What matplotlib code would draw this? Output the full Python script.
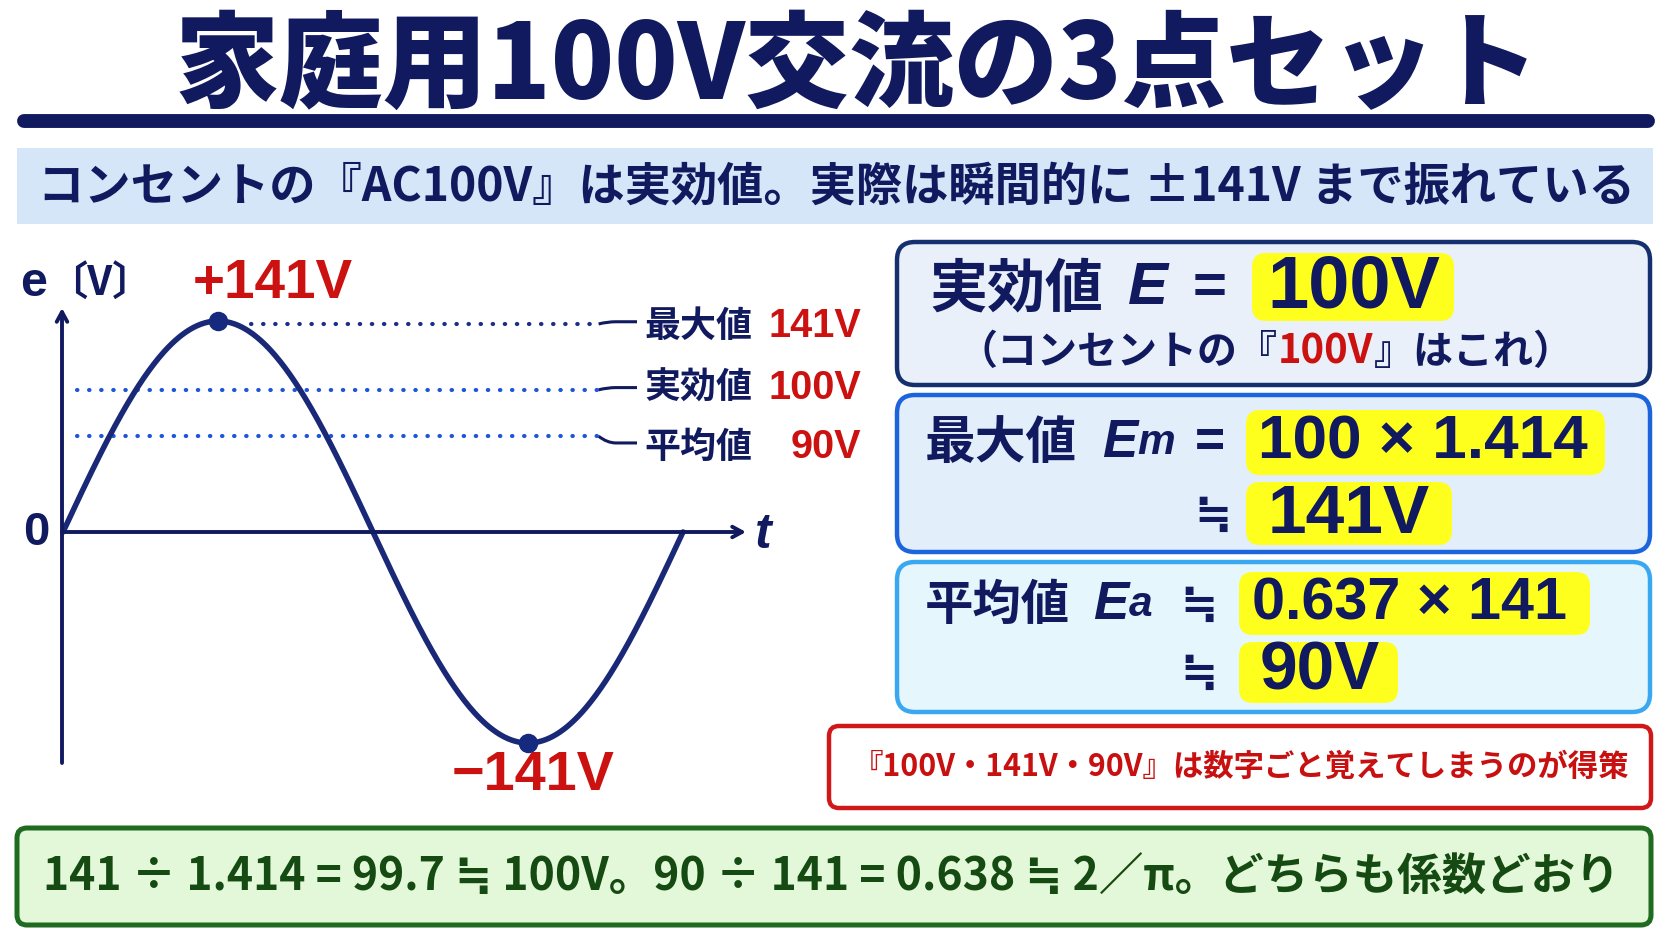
import numpy as np
import matplotlib
matplotlib.use("Agg")
import matplotlib.pyplot as plt
from matplotlib.patches import FancyBboxPatch, Rectangle, PathPatch
from matplotlib.path import Path

# ---------------- data ----------------
Em = 141            # maximum value [V]
E_rms = 100         # effective value [V]
E_avg = 90          # average value [V]
period_deg = 360    # one cycle drawn
peak_deg = [90, 270]
peak_val = [Em, -Em]
guide_names = ["最大値", "実効値", "平均値"]
guide_labels = ["141V", "100V", "90V"]
guide_heights = [139, 95, 64]        # heights of the dotted guides as drawn in the picture [V]
guide_start = [109, 8, 8]            # deg
guide_end = 311                      # deg
title = "家庭用100V交流の3点セット"
subtitle = "コンセントの『AC100V』は実効値。実際は瞬間的に ±141V まで振れている"
tip = "『100V・141V・90V』は数字ごと覚えてしまうのが得策"
bottom = "141 ÷ 1.414 = 99.7 ≒ 100V。90 ÷ 141 = 0.638 ≒ 2／π。どちらも係数どおり"

# ---------------- setup ----------------
W, H = 1672, 941
fig = plt.figure(figsize=(W / 100, H / 100), dpi=100)
fig.patch.set_facecolor("white")
bg = fig.add_axes([0, 0, 1, 1])
bg.set_xlim(0, W)
bg.set_ylim(H, 0)
bg.axis("off")

CJK = ["Noto Sans CJK JP", "DejaVu Sans"]
LAT = ["Liberation Sans", "DejaVu Sans"]
NAVY = "#111a5e"
RED = "#cc1111"
YEL = "#ffff1e"
GTXT = "#154a12"

renderer = fig.canvas.get_renderer()


def wid(t):
    return t.get_window_extent(renderer).width


def runs(x0, x1, y, parts, size=30, va="center"):
    ts = []
    for s, c, kw in parts:
        kw = dict(kw)
        rel = kw.pop("rel", 1.0)
        k = dict(family=CJK, weight="bold")
        k.update(kw)
        t = bg.text(x0, y, s, color=c, fontsize=size * rel, va=va, ha="left", **k)
        ts.append(t)
    if x1 is not None:
        total = sum(wid(t) for t in ts)
        f = (x1 - x0) / total
        for t in ts:
            t.set_fontsize(t.get_fontsize() * f)
    x = x0
    for t in ts:
        t.set_x(x)
        x += wid(t)
    return ts


def rbox(x0, y0, x1, y1, fc, ec, lw, r, z=1):
    p = FancyBboxPatch((x0, y0), x1 - x0, y1 - y0,
                       boxstyle=f"round,pad=0,rounding_size={r}",
                       fc=fc, ec=ec, lw=lw, zorder=z)
    bg.add_patch(p)


# ---------------- title ----------------
runs(175, 1541, 68, [(title, NAVY, dict(weight="black"))], size=70)
bg.plot([24, 1648], [121, 121], color=NAVY, lw=10, solid_capstyle="round")

# ---------------- subtitle band ----------------
bg.add_patch(Rectangle((17, 148), 1636, 76, fc="#d5e6f8", ec="none"))
runs(38, 1636, 187, [(subtitle, NAVY, {})], size=30)

# ---------------- chart ----------------
X0PX, PXDEG = 63, 620 / 360
Y0PX, PXV = 532, 211 / 141
L, R, T, B = 0, 880, 240, 820
ax = fig.add_axes([L / W, 1 - B / H, (R - L) / W, (B - T) / H])
ax.set_xlim((L - X0PX) / PXDEG, (R - X0PX) / PXDEG)
ax.set_ylim((Y0PX - B) / PXV, (Y0PX - T) / PXV)
ax.axis("off")
ax.patch.set_alpha(0)

LINEC = "#1a2878"
tt = np.linspace(0, period_deg, 500)
ax.plot(tt, Em * np.sin(np.radians(tt)), color=LINEC, lw=4, solid_capstyle="round", zorder=3)
ax.plot(peak_deg, peak_val, "o", ms=13, color="#15297e", zorder=4)

arrow_kw = dict(arrowstyle="->,head_length=0.7,head_width=0.38", lw=2.8, color=NAVY,
                shrinkA=0, shrinkB=0)
ax.annotate("", xy=((746 - X0PX) / PXDEG, 0), xytext=((62 - X0PX) / PXDEG, 0), arrowprops=arrow_kw)
ax.annotate("", xy=((62 - X0PX) / PXDEG, (Y0PX - 308) / PXV),
            xytext=((62 - X0PX) / PXDEG, (Y0PX - 763) / PXV), arrowprops=arrow_kw)

guide_colors = ["#1b2f8a", "#1f55d8", "#1f55d8"]
conn_dy = [1.5, 1.5, -4.5]
xc_end = (637 - X0PX) / PXDEG
for gh, gs, gc, dy in zip(guide_heights, guide_start, guide_colors, conn_dy):
    ax.plot([gs, guide_end], [gh, gh], color=gc, lw=3.0, linestyle=(0, (0.1, 2.8)),
            dash_capstyle="round", zorder=2)
    verts = [(guide_end, gh), (guide_end + 5, gh + dy), (guide_end + 10, gh + dy), (xc_end, gh + dy)]
    codes = [Path.MOVETO, Path.CURVE3, Path.CURVE3, Path.LINETO]
    ax.add_patch(PathPatch(Path(verts, codes), fc="none", ec=NAVY, lw=2.2))

# chart labels
label_y = [326, 388, 447]
for name, lab, y in zip(guide_names, guide_labels, label_y):
    runs(644, 752, y, [(name, NAVY, {})], size=26)
vals = []
for lab, y in zip(guide_labels, label_y):
    vals.append(bg.text(861, y, lab, color=RED, family=LAT, weight="bold", fontsize=28,
                        ha="right", va="center"))
f = 93 / wid(vals[0])
for v in vals:
    v.set_fontsize(v.get_fontsize() * f)

runs(193, 353, 284, [("+141V", RED, dict(family=LAT))], size=36)
runs(452, 615, 776, [("−141V", RED, dict(family=LAT))], size=36)
runs(20, None, 283, [("e", NAVY, dict(family=LAT, rel=1.2)), ("〔V〕", NAVY, dict(rel=1.0))], size=29)
bg.text(36, 533, "0", color=NAVY, family=LAT, weight="bold", fontsize=34, ha="center", va="center")
bg.text(755, 535, "t", color=NAVY, family=LAT, weight="bold", style="italic", fontsize=36,
        ha="left", va="center")

# ---------------- right boxes ----------------
rbox(897, 242, 1650, 385, "#e9f0fa", "#14306e", 3.2, 18)
rbox(897, 395, 1650, 552, "#e3eefb", "#1c64dc", 3.2, 18)
rbox(897, 562, 1650, 712, "#e5f6fd", "#3aa8f0", 3.2, 18)

# yellow highlights
for (x0, y0, x1, y1) in [(1252, 253, 1454, 321), (1246, 410, 1605, 475), (1246, 482, 1452, 545),
                         (1239, 572, 1590, 635), (1239, 642, 1398, 703)]:
    rbox(x0, y0, x1, y1, YEL, "none", 0, 14, z=2)

ITAL = dict(family=LAT, style="italic")
# box 1
runs(929, 1103, 289, [("実効値", NAVY, {})], size=40)
runs(1128, 1168, 289, [("E", NAVY, ITAL)], size=40)
runs(1193, 1227, 289, [("=", NAVY, dict(family=LAT))], size=40)
t = runs(1267, 1440, 288, [(f"{E_rms}V", NAVY, dict(family=LAT))], size=40)
for x in t:
    x.set_zorder(3)
runs(958, 1573, 352, [("（コンセントの『", NAVY, {}), (f"{E_rms}V", RED, {}), ("』はこれ）", NAVY, {})],
     size=30)

# box 2
runs(925, 1077, 443, [("最大値", NAVY, {})], size=40)
runs(1102, 1175, 443, [("E", NAVY, ITAL), ("m", NAVY, dict(ITAL, rel=0.8))], size=40)
runs(1195, 1225, 443, [("=", NAVY, dict(family=LAT))], size=40)
for x in runs(1258, 1587, 443, [("100 × 1.414", NAVY, dict(family=LAT))], size=40):
    x.set_zorder(3)
bg.text(1213, 515, "≒", color=NAVY, family=CJK, weight="bold", fontsize=32, ha="center", va="center")
tx = bg.text(1349, 515, f"{Em}V", color=NAVY, family=LAT, weight="bold", fontsize=50,
             ha="center", va="center", zorder=3)

# box 3
runs(925, 1070, 605, [("平均値", NAVY, {})], size=40)
runs(1093, 1152, 605, [("E", NAVY, ITAL), ("a", NAVY, dict(ITAL, rel=0.8))], size=40)
bg.text(1199, 605, "≒", color=NAVY, family=CJK, weight="bold", fontsize=32, ha="center", va="center")
for x in runs(1252, 1567, 604, [("0.637 × 141", NAVY, dict(family=LAT))], size=40):
    x.set_zorder(3)
bg.text(1199, 673, "≒", color=NAVY, family=CJK, weight="bold", fontsize=32, ha="center", va="center")
for x in runs(1260, 1380, 672, [(f"{E_avg}V", NAVY, dict(family=LAT))], size=40):
    x.set_zorder(3)

# ---------------- tip box ----------------
rbox(829, 726, 1651, 808, "white", "#d01818", 3.2, 10)
for x in runs(853, 1631, 767, [(tip, "#c81010", {})], size=26):
    x.set_zorder(3)

# ---------------- bottom box ----------------
rbox(17, 828, 1651, 925, "#e3f8d8", "#1f6b1f", 3.6, 10)
for x in runs(43, 1620, 878, [(bottom, GTXT, {})], size=30):
    x.set_zorder(3)

fig.savefig("out.png", dpi=100, facecolor="white")
